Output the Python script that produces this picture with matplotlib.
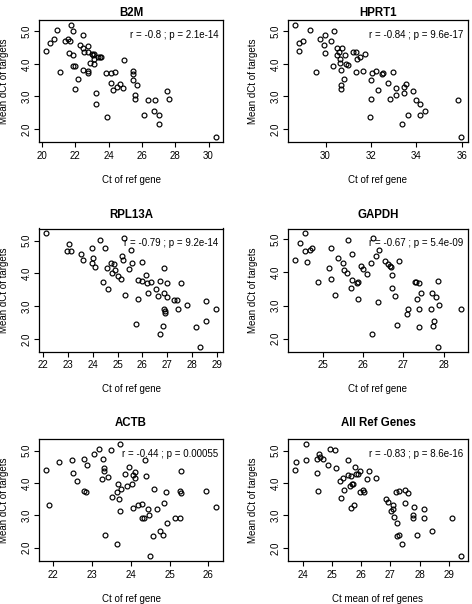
#!/usr/bin/env python3
"""Mean dCt of targets versus Ct of each reference gene (6 panels)."""

import matplotlib

matplotlib.use("Agg")
import matplotlib.pyplot as plt

plt.rcParams["font.family"] = ["Liberation Sans", "DejaVu Sans"]

FIG_W, FIG_H = 472, 604
DPI = 100
TEXT_SIZE = 7.0
TITLE_SIZE = 8.3

# ---- data ------------------------------------------------------------------
b2m_ct = [20.22, 20.46, 20.72, 20.90, 21.10, 21.39, 21.53, 21.65, 21.71, 21.85,
          21.63, 21.87, 21.83, 22.00, 21.95, 22.17, 22.27, 22.43, 22.47, 22.51,
          22.43, 22.77, 22.73, 22.77, 22.75, 22.87, 22.99, 23.07, 23.13, 23.13,
          23.11, 23.33, 23.47, 23.55, 23.21, 23.21, 23.82, 23.92, 24.16, 24.38,
          24.16, 24.24, 24.48, 24.68, 24.88, 24.92, 25.44, 25.46, 25.48, 25.58,
          25.56, 25.72, 26.35, 26.12, 26.77, 26.73, 27.05, 27.05, 27.49, 27.61,
          30.46]
b2m_dct = [4.41, 4.64, 4.76, 5.03, 3.75, 4.69, 4.76, 4.69, 5.21, 5.00,
           4.33, 4.28, 3.95, 3.94, 3.23, 3.54, 4.59, 4.90, 4.48, 4.38,
           3.82, 4.54, 4.36, 3.79, 3.72, 4.04, 4.31, 4.26, 4.29, 4.15,
           3.99, 4.20, 4.20, 4.20, 3.12, 2.76, 3.72, 2.36, 3.72, 3.74,
           3.41, 3.20, 3.30, 3.38, 3.27, 4.13, 3.77, 3.70, 3.51, 3.05,
           2.92, 3.36, 2.89, 2.42, 2.89, 2.56, 2.42, 2.16, 3.18, 2.91,
           1.74]

hprt1_ct = [28.64, 28.83, 28.84, 29.00, 29.31, 29.58, 29.77, 29.93, 29.97, 29.97,
            30.22, 30.38, 30.33, 30.49, 30.52, 30.58, 30.62, 30.65, 30.72, 30.66,
            30.66, 30.66, 30.82, 30.85, 30.92, 30.97, 31.20, 31.32, 31.40, 31.50,
            31.36, 31.63, 31.72, 32.00, 32.04, 32.00, 31.95, 32.24, 32.30, 32.50,
            32.54, 32.75, 32.86, 32.99, 33.11, 33.11, 33.38, 33.47, 33.47, 33.54,
            33.61, 33.86, 33.97, 34.16, 34.18, 34.36, 35.84, 35.98]
hprt1_dct = [5.21, 4.64, 4.41, 4.69, 5.03, 3.75, 4.76, 4.59, 4.90, 4.33,
             4.69, 5.00, 3.94, 4.28, 4.48, 4.38, 4.04, 4.15, 4.49, 3.82,
             3.36, 3.23, 3.54, 4.26, 3.99, 3.96, 4.38, 4.36, 4.15, 4.20,
             3.74, 3.79, 4.31, 3.51, 3.72, 2.92, 2.36, 3.77, 3.20, 3.70,
             3.72, 3.41, 2.92, 3.74, 3.25, 3.05, 2.16, 3.12, 3.30, 3.38,
             2.42, 3.18, 2.89, 2.76, 2.42, 2.56, 2.89, 1.74]

rpl13a_ct = [22.11, 22.97, 23.04, 23.12, 23.51, 23.60, 23.95, 23.98, 23.99, 24.11,
             24.29, 24.41, 24.50, 24.58, 24.62, 24.73, 24.79, 24.85, 24.89, 25.00,
             25.12, 25.18, 25.22, 25.24, 25.30, 25.47, 25.53, 25.59, 25.76, 25.82,
             25.84, 25.97, 25.98, 26.13, 26.19, 26.21, 26.33, 26.56, 26.64, 26.70,
             26.72, 26.82, 26.85, 26.86, 26.86, 26.89, 26.91, 26.97, 26.97, 27.26,
             27.41, 27.45, 27.56, 27.79, 28.16, 28.30, 28.55, 28.55, 28.97]
rpl13a_dct = [5.23, 4.69, 4.90, 4.67, 4.59, 4.42, 4.76, 4.33, 4.47, 4.21,
              5.01, 3.74, 4.76, 4.16, 3.53, 4.32, 4.00, 4.29, 4.09, 3.93,
              3.83, 4.53, 4.40, 5.07, 3.35, 4.14, 4.71, 4.32, 2.45, 3.79,
              3.23, 3.76, 4.36, 3.96, 3.70, 3.39, 3.74, 3.53, 3.31, 3.76,
              2.15, 2.40, 3.39, 4.18, 2.92, 2.85, 2.78, 3.27, 3.72, 3.20,
              3.20, 2.92, 3.71, 3.04, 2.37, 1.76, 2.55, 3.15, 2.92]

gapdh_ct = [24.30, 24.44, 24.56, 24.56, 24.61, 24.69, 24.72, 24.88, 25.15, 25.20,
            25.20, 25.30, 25.37, 25.49, 25.52, 25.59, 25.62, 25.69, 25.72, 25.73,
            25.85, 25.87, 25.88, 25.96, 26.00, 26.09, 26.19, 26.21, 26.25, 26.32,
            26.36, 26.40, 26.54, 26.62, 26.66, 26.70, 26.71, 26.73, 26.78, 26.85,
            26.90, 27.10, 27.12, 27.30, 27.32, 27.33, 27.38, 27.39, 27.40, 27.45,
            27.68, 27.70, 27.75, 27.73, 27.82, 27.87, 27.87, 27.89, 28.44]
gapdh_dct = [4.39, 4.88, 5.19, 4.65, 4.31, 4.69, 4.73, 3.71, 4.13, 4.73,
             3.80, 3.32, 4.44, 4.29, 4.06, 3.98, 4.98, 3.52, 3.77, 4.57,
             3.69, 3.71, 3.20, 4.19, 4.11, 3.94, 4.29, 2.13, 5.04, 4.51,
             3.12, 4.68, 4.34, 4.26, 4.21, 4.16, 3.91, 3.53, 3.29, 2.41,
             4.36, 2.75, 2.90, 3.71, 3.71, 3.20, 2.36, 3.69, 2.90, 3.37,
             2.90, 3.37, 2.52, 2.38, 3.27, 3.75, 1.75, 3.01, 2.90]

actb_ct = [21.82, 21.91, 22.17, 22.50, 22.51, 22.62, 22.80, 22.80, 22.86, 22.89,
           23.07, 23.20, 23.30, 23.32, 23.32, 23.27, 23.35, 23.42, 23.49, 23.51,
           23.65, 23.65, 23.68, 23.69, 23.72, 23.73, 23.75, 23.85, 23.90, 23.96,
           24.03, 24.06, 24.06, 24.11, 24.11, 24.19, 24.28, 24.30, 24.34, 24.36,
           24.40, 24.45, 24.48, 24.51, 24.58, 24.59, 24.68, 24.76, 24.83, 24.85,
           24.90, 24.94, 25.13, 25.28, 25.29, 25.29, 25.27, 25.93, 26.20]
actb_dct = [4.40, 3.32, 4.65, 4.71, 4.31, 4.06, 4.74, 3.74, 3.71, 4.56,
            4.88, 5.05, 4.74, 4.46, 4.38, 4.11, 2.40, 4.17, 5.02, 3.55,
            2.12, 3.71, 3.96, 3.50, 5.21, 3.12, 3.81, 4.28, 3.91, 4.50,
            3.96, 4.26, 3.23, 4.33, 4.16, 3.31, 3.35, 2.93, 2.90, 4.71,
            4.20, 3.20, 3.00, 1.73, 2.35, 3.80, 3.18, 2.52, 2.38, 3.37,
            3.71, 2.76, 2.90, 3.76, 3.68, 4.38, 2.90, 3.74, 3.27]

allref_ct = [23.73, 23.79, 24.11, 24.11, 24.50, 24.51, 24.53, 24.56, 24.58, 24.69,
             24.86, 24.95, 25.11, 25.14, 25.29, 25.32, 25.38, 25.41, 25.57, 25.57,
             25.62, 25.67, 25.67, 25.70, 25.74, 25.77, 25.78, 25.82, 25.88, 25.96,
             25.98, 26.07, 26.10, 26.20, 26.27, 26.52, 26.85, 26.93, 27.04, 27.08,
             27.10, 27.13, 27.18, 27.22, 27.22, 27.30, 27.30, 27.39, 27.52, 27.52,
             27.60, 27.80, 27.78, 27.78, 27.91, 28.14, 28.14, 28.44, 29.11, 29.43]
allref_dct = [4.40, 4.65, 4.71, 5.21, 4.74, 4.32, 3.75, 4.88, 4.80, 4.74,
              4.57, 5.05, 5.02, 4.45, 4.06, 3.55, 4.17, 3.80, 4.71, 4.25,
              3.91, 4.22, 3.24, 3.97, 3.97, 3.31, 4.50, 4.29, 4.29, 4.37,
              3.72, 3.80, 3.72, 4.11, 4.37, 4.17, 3.51, 3.40, 3.13, 3.31,
              3.21, 2.94, 3.72, 2.76, 2.36, 3.75, 2.41, 2.13, 3.79, 3.38,
              3.70, 3.27, 3.00, 2.91, 2.40, 3.19, 2.91, 2.53, 2.91, 1.74]

titles = ["B2M", "HPRT1", "RPL13A", "GAPDH", "ACTB", "All Ref Genes"]
stats = ["r = -0.8 ; p = 2.1e-14", "r = -0.84 ; p = 9.6e-17",
         "r = -0.79 ; p = 9.2e-14", "r = -0.67 ; p = 5.4e-09",
         "r = -0.44 ; p = 0.00055", "r = -0.83 ; p = 8.6e-16"]
xlabels = ["Ct of ref gene"] * 5 + ["Ct mean of ref genes"]
xticks = [[20, 22, 24, 26, 28, 30], [30, 32, 34, 36],
          [22, 23, 24, 25, 26, 27, 28, 29], [25, 26, 27, 28],
          [22, 23, 24, 25, 26], [24, 25, 26, 27, 28, 29]]
yticks = [2.0, 3.0, 4.0, 5.0]

series = [(b2m_ct, b2m_dct), (hprt1_ct, hprt1_dct), (rpl13a_ct, rpl13a_dct),
          (gapdh_ct, gapdh_dct), (actb_ct, actb_dct), (allref_ct, allref_dct)]

# ---- layout in reference pixels ---------------------------------------------
col_left = [39, 288]
col_right = [223, 468]
row_top = [20, 228.5, 439.3]
row_bottom = [142, 351.5, 560.8]
title_gap = [7.5, 14.0, 16.0]  # px from box top to title centre


def main() -> None:
    fig = plt.figure(figsize=(FIG_W / DPI, FIG_H / DPI), dpi=DPI)
    for i, (xs, ys) in enumerate(series):
        row, col = divmod(i, 2)
        left, right = col_left[col], col_right[col]
        top, bottom = row_top[row], row_bottom[row]
        w, h = right - left, bottom - top
        ax = fig.add_axes([left / FIG_W, 1 - bottom / FIG_H, w / FIG_W, h / FIG_H])

        ax.plot(xs, ys, linestyle="none", marker="o", markersize=3.5,
                markerfacecolor="none", markeredgecolor="black",
                markeredgewidth=0.85)
        ax.margins(x=0.04, y=0.04)

        ax.set_xticks(xticks[i])
        ax.set_xticklabels([str(t) for t in xticks[i]])
        ax.set_yticks(yticks)
        ax.set_yticklabels([f"{t:.1f}" for t in yticks], rotation=90, va="center")
        ax.tick_params(axis="both", direction="out", length=3.4, width=0.8,
                       labelsize=TEXT_SIZE, color="black")
        ax.tick_params(axis="x", pad=3.0)
        ax.tick_params(axis="y", pad=1.8)
        for spine in ax.spines.values():
            spine.set_linewidth(0.9)
            spine.set_color("black")

        ax.text(0.5, 1 + title_gap[row] / h, titles[i], transform=ax.transAxes,
                ha="center", va="center", fontsize=TITLE_SIZE, fontweight="bold")
        ax.text(1 - 4.5 / w, 1 - 15.0 / h, stats[i], transform=ax.transAxes,
                ha="right", va="center", fontsize=TEXT_SIZE)

        ax.set_xlabel(xlabels[i], fontsize=TEXT_SIZE)
        ax.xaxis.set_label_coords(0.5, -38.0 / h)
        ax.xaxis.label.set_va("center")
        ax.set_ylabel("Mean dCt of targets", fontsize=TEXT_SIZE)
        ax.yaxis.set_label_coords(-35.0 / w, 0.5)
        ax.yaxis.label.set_va("center")

    fig.savefig("out.png", dpi=DPI, facecolor="white")
    plt.close(fig)


if __name__ == "__main__":
    main()
